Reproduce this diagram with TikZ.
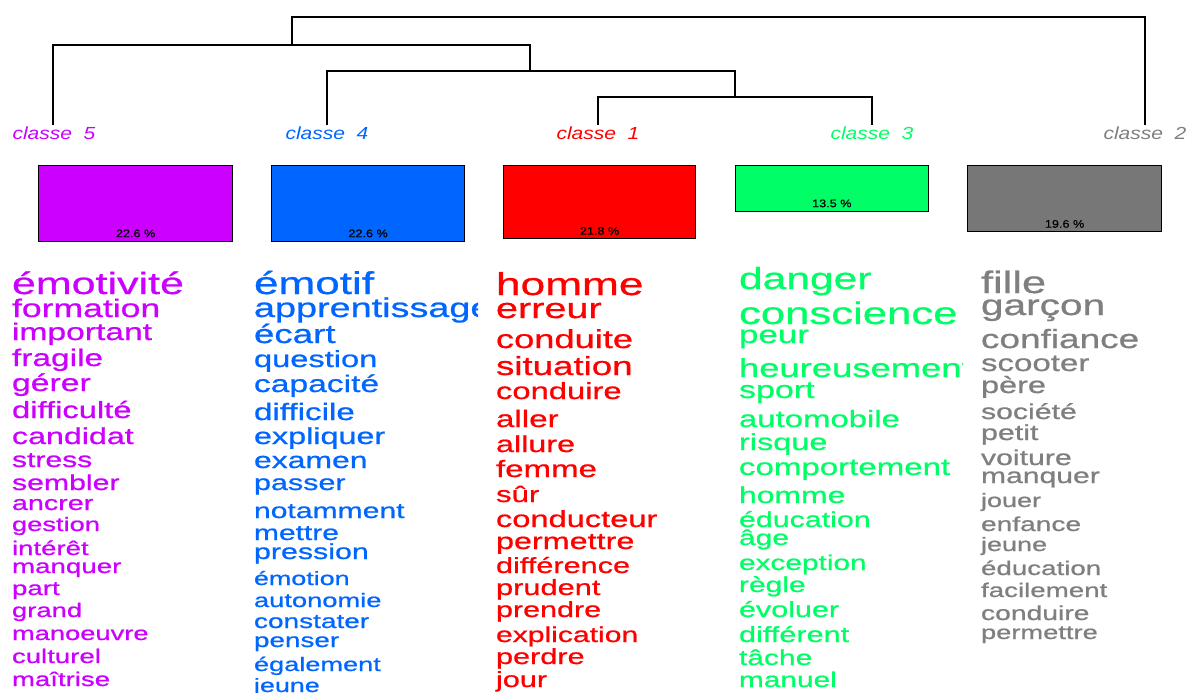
\documentclass[tikz,border=0pt]{standalone}
\usepackage{fontspec}
\newfontfamily\wf[FakeStretch=1.4,FakeBold=0.8]{Liberation Sans}
\newfontfamily\lf[FakeStretch=1.2]{Liberation Sans}
\newfontfamily\pf[FakeStretch=1.15,FakeBold=0.5]{Liberation Sans}
\definecolor{cfive}{HTML}{CC00FF}
\definecolor{cfour}{HTML}{0066FF}
\definecolor{cone}{HTML}{FF0000}
\definecolor{cthree}{HTML}{00FF66}
\definecolor{ctwo}{HTML}{7F7F7F}
\definecolor{boxtwo}{HTML}{777777}
\newcommand\placeword[4]{\node[wordnode] (#1) at (\colx,#2) {\fontsize{#3}{#3}\selectfont #4};}
\begin{document}
\begin{tikzpicture}[x=1pt,y=-1pt,
  wordnode/.style={inner sep=0pt,outer sep=0pt,anchor=base west,font=\wf},
  classlab/.style={inner sep=0pt,anchor=base,font=\lf\itshape\fontsize{17.5}{17.5}\selectfont},
  clbox/.style={draw=black,line width=1.2pt,anchor=north west,inner sep=0pt,minimum width=194pt},
  pct/.style={inner sep=0pt,anchor=base,text=black,font=\pf\fontsize{11}{11}\selectfont},
  dend/.style={draw=black,line width=1.1pt}]
\useasboundingbox (0,0) rectangle (1188,693);
\fill[white] (0,0) rectangle (1188,693);

% class labels
\node[classlab,text=cfive] (lab5) at (54,139) {classe\ \ 5};
\node[classlab,text=cfour] (lab4) at (327,139) {classe\ \ 4};
\node[classlab,text=cone] (lab1) at (598,139) {classe\ \ 1};
\node[classlab,text=cthree] (lab3) at (872,139) {classe\ \ 3};
\node[classlab,text=ctwo] (lab2) at (1145,139) {classe\ \ 2};

% dendrogram
\coordinate (l5) at (53,125);
\coordinate (l4) at (327,125);
\coordinate (l1) at (598,125);
\coordinate (l3) at (872,125);
\coordinate (l2) at (1145,125);
\coordinate (m13) at (735,97);
\coordinate (m413) at (530,71);
\coordinate (m5413) at (292,45);
\coordinate (root) at (718,17);
\draw[dend] (l1) |- (m13) -| (l3);
\draw[dend] (l4) |- (m413) -| (m13);
\draw[dend] (l5) |- (m5413) -| (m413);
\draw[dend] (m5413) |- (root) -| (l2);

% boxes
\node[clbox,fill=cfive,minimum height=75.5pt] (b5) at (38,165) {};
\node[clbox,fill=cfour,minimum height=75.5pt,minimum width=193pt] (b4) at (271,165) {};
\node[clbox,fill=cone,minimum height=73pt,minimum width=192pt] (b1) at (503,165) {};
\node[clbox,fill=cthree,minimum height=45.5pt,minimum width=192.5pt] (b3) at (735,165) {};
\node[clbox,fill=boxtwo,minimum height=66pt] (b2) at (967,165) {};
\node[pct] (p5) at ([yshift=4.5pt]b5.south) {22.6 \%};
\node[pct] (p4) at ([yshift=4.5pt]b4.south) {22.6 \%};
\node[pct] (p1) at ([yshift=4.5pt]b1.south) {21.8 \%};
\node[pct] (p3) at ([yshift=4.5pt]b3.south) {13.5 \%};
\node[pct] (p2) at ([yshift=4.5pt]b2.south) {19.6 \%};

% column classe 5
\begin{scope}[every node/.append style={text=cfive}]
\clip (5,255) rectangle (235,693);
\def\colx{12}
\placeword{a1}{294}{30.7}{émotivité}
\placeword{a2}{317}{25.4}{formation}
\placeword{a3}{340}{24.0}{important}
\placeword{a4}{366}{23.9}{fragile}
\placeword{a5}{391}{24.1}{gérer}
\placeword{a6}{418}{23.4}{difficulté}
\placeword{a7}{444}{23.0}{candidat}
\placeword{a8}{467}{21.5}{stress}
\placeword{a9}{490}{21.6}{sembler}
\placeword{a10}{510}{20.5}{ancrer}
\placeword{a11}{531}{19.5}{gestion}
\placeword{a12}{555}{19.7}{intérêt}
\placeword{a13}{573}{19.8}{manquer}
\placeword{a14}{595}{19.8}{part}
\placeword{a15}{617}{19.6}{grand}
\placeword{a16}{640}{19.5}{manoeuvre}
\placeword{a17}{663}{19.7}{culturel}
\placeword{a18}{686}{19.7}{maîtrise}
\end{scope}

% column classe 4
\begin{scope}[every node/.append style={text=cfour}]
\clip (245,255) rectangle (478,693);
\def\colx{254}
\placeword{b1w}{294}{31.5}{émotif}
\placeword{b2w}{317}{27}{apprentissage}
\placeword{b3w}{343}{26.2}{écart}
\placeword{b4w}{367}{23.3}{question}
\placeword{b5w}{392}{24.0}{capacité}
\placeword{b6w}{420}{23.7}{difficile}
\placeword{b7w}{444}{23.1}{expliquer}
\placeword{b8w}{468}{22.8}{examen}
\placeword{b9w}{490}{21.8}{passer}
\placeword{b10w}{518}{21.5}{notamment}
\placeword{b11w}{540}{21.4}{mettre}
\placeword{b12w}{559}{21.7}{pression}
\placeword{b13w}{585}{19.2}{émotion}
\placeword{b14w}{607}{19.5}{autonomie}
\placeword{b15w}{628}{20.0}{constater}
\placeword{b16w}{647}{19.9}{penser}
\placeword{b17w}{671}{19.4}{également}
\placeword{b18w}{692}{19.2}{jeune}
\end{scope}

% column classe 1
\begin{scope}[every node/.append style={text=cone}]
\clip (487,255) rectangle (720,693);
\def\colx{496}
\placeword{c1w}{295}{31.6}{homme}
\placeword{c2w}{318}{28.3}{erreur}
\placeword{c3w}{348}{25.9}{conduite}
\placeword{c4w}{375}{26.2}{situation}
\placeword{c5w}{399}{23.4}{conduire}
\placeword{c6w}{427}{23.7}{aller}
\placeword{c7w}{452}{23.1}{allure}
\placeword{c8w}{477}{23.6}{femme}
\placeword{c9w}{502}{22.3}{sûr}
\placeword{c10w}{527}{23.3}{conducteur}
\placeword{c11w}{549}{23.1}{permettre}
\placeword{c12w}{573}{21.9}{différence}
\placeword{c13w}{595}{22.0}{prudent}
\placeword{c14w}{617}{21.8}{prendre}
\placeword{c15w}{642}{21.5}{explication}
\placeword{c16w}{664}{21.9}{perdre}
\placeword{c17w}{687}{21.9}{jour}
\end{scope}

% column classe 3
\begin{scope}[every node/.append style={text=cthree}]
\clip (729,255) rectangle (963,693);
\def\colx{739}
\placeword{d1w}{289}{30.4}{danger}
\placeword{d2w}{324}{31.2}{conscience}
\placeword{d3w}{343}{25}{peur}
\placeword{d4w}{377}{26}{heureusement}
\placeword{d5w}{398}{24.3}{sport}
\placeword{d6w}{427}{23.5}{automobile}
\placeword{d7w}{450}{23.2}{risque}
\placeword{d8w}{475}{23.6}{comportement}
\placeword{d9w}{503}{22.8}{homme}
\placeword{d10w}{527}{21.7}{éducation}
\placeword{d11w}{545}{21.4}{âge}
\placeword{d12w}{570}{21.3}{exception}
\placeword{d13w}{592}{21.4}{règle}
\placeword{d14w}{617}{21.8}{évoluer}
\placeword{d15w}{642}{21.9}{différent}
\placeword{d16w}{665}{21.4}{tâche}
\placeword{d17w}{687}{21.3}{manuel}
\end{scope}

% column classe 2
\begin{scope}[every node/.append style={text=ctwo}]
\clip (971,255) rectangle (1188,693);
\def\colx{981}
\placeword{e1w}{293}{31}{fille}
\placeword{e2w}{315}{29}{garçon}
\placeword{e3w}{348}{26.4}{confiance}
\placeword{e4w}{371}{23.6}{scooter}
\placeword{e5w}{393}{23.2}{père}
\placeword{e6w}{419}{21.6}{société}
\placeword{e7w}{440}{21.7}{petit}
\placeword{e8w}{465}{21.6}{voiture}
\placeword{e9w}{483}{21.5}{manquer}
\placeword{e10w}{507}{19.3}{jouer}
\placeword{e11w}{531}{20.1}{enfance}
\placeword{e12w}{551}{19.3}{jeune}
\placeword{e13w}{575}{19.8}{éducation}
\placeword{e14w}{597}{19.8}{facilement}
\placeword{e15w}{620}{20.2}{conduire}
\placeword{e16w}{639}{19.5}{permettre}
\end{scope}
\end{tikzpicture}
\end{document}
